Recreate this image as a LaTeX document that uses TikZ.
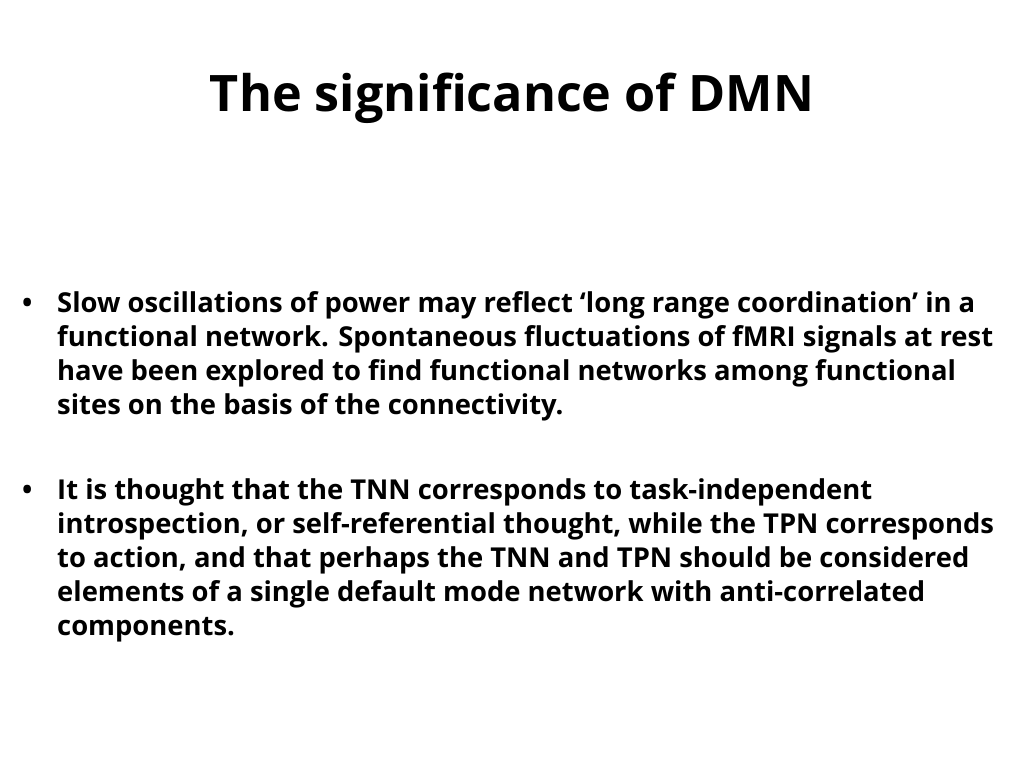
\documentclass[tikz,border=0pt]{standalone}
\usepackage{fontspec}
\setmainfont{Open Sans}
\usepackage{tikz}
\tikzstyle{title} = [anchor=base, inner sep=0pt, font=\fontsize{50.3}{54}\selectfont\bfseries]
\tikzstyle{bullet} = [anchor=base west, inner sep=0pt, font=\fontsize{27.4}{34}\selectfont\bfseries]
\tikzstyle{para} = [anchor=base west, inner sep=0pt, align=left, font=\fontsize{27.4}{34}\selectfont\bfseries]

\begin{document}
\begin{tikzpicture}[x=1pt, y=-1pt]

\useasboundingbox [fill=white] (0, 0) rectangle (1024, 768);

% title
\node [title] at (512, 111) (head) {The significance of DMN};

% first bullet (paragraph anchored on its last line)
\node [bullet] at (22, 312) (b1) {\textbullet};
\node [para] at (57, 414) (p1) {Slow oscillations of power may reflect ‘long range coordination’ in a\\
functional network. Spontaneous fluctuations of fMRI signals at rest\\
have been explored to find functional networks among functional\\
sites on the basis of the connectivity.};

% second bullet
\node [bullet] at (22, 499) (b2) {\textbullet};
\node [para] at (57, 635) (p2) {It is thought that the TNN corresponds to task-independent\\
introspection, or self-referential thought, while the TPN corresponds\\
to action, and that perhaps the TNN and TPN should be considered\\
elements of a single default mode network with anti-correlated\\
components.};

\end{tikzpicture}
\end{document}
